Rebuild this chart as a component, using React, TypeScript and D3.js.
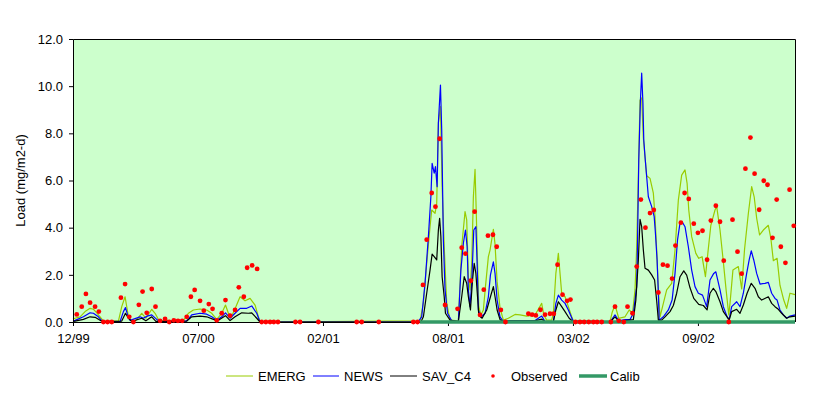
import { useRef, useEffect } from 'react'
import * as d3 from 'd3'

// x values are sample weeks from the first 12/99 sample, y values in mg/m2-d
const X_TICKS = [0, 30, 60, 90, 120, 150]
const X_LABELS = ['12/99', '07/00', '02/01', '08/01', '03/02', '09/02']
const X_MAX = 173.3
const Y_TICKS = [0, 2, 4, 6, 8, 10, 12]

const emergData: [number, number][] = [
  [0, 0.12], [0.5, 0.16], [1.7, 0.22], [2.9, 0.44], [4.1, 0.58], [4.9, 0.54], [5.7, 0.39], [6.5, 0.22],
  [7.3, 0.04], [10.9, 0.04], [11.7, 0.65], [12.5, 1.07], [13.3, 0.22], [14.1, 0.02], [15.1, 0.07],
  [16.5, 0.37], [17.5, 0.16], [18.9, 0.54], [19.7, 0.37], [20.7, 0.04], [22.5, 0.07], [24.1, 0.05],
  [26.5, 0.07], [27.7, 0.37], [28.9, 0.51], [30.5, 0.55], [32.1, 0.51], [33.3, 0.37], [34.5, 0.11],
  [35.7, 0.37], [36.6, 0.72], [37.3, 0.37], [38.1, 0.25], [39.1, 0.65], [40.1, 1.07], [41.3, 0.9],
  [42.5, 1.0], [43.7, 0.72], [44.5, 0.22], [44.9, 0], [83.3, 0.05], [84.1, 0.79], [84.9, 2.49],
  [85.7, 4.04], [86.1, 4.75], [86.9, 4.61], [87.3, 5.03], [87.7, 8.43], [88.2, 9.13], [88.6, 5.74],
  [89.1, 3.19], [89.7, 0.8], [90.5, 0.08], [92.5, 0.05], [93.3, 3.19], [94.1, 4.68], [94.5, 4.33],
  [94.9, 1.92], [95.3, 1.36], [95.7, 2.49], [96.1, 5.31], [96.5, 6.47], [96.8, 4.61], [97.1, 2.49],
  [97.4, 0.65], [97.9, 0.3], [98.5, 0.51], [99.0, 1.5], [99.7, 2.77], [100.1, 3.05], [100.9, 3.93],
  [101.3, 3.3], [101.8, 1.7], [102.5, 0.6], [103.3, 0.08], [104.5, 0.16], [106.1, 0.32], [107.3, 0.3],
  [108.9, 0.25], [110.9, 0.3], [112.5, 0.79], [113.0, 0.3], [113.7, 0.08], [114.9, 0.08], [115.3, 0.37],
  [115.9, 2.06], [116.5, 2.91], [116.9, 2.06], [117.3, 1.22], [118.1, 1.07], [118.9, 0.65], [119.7, 0.22],
  [120.1, 0.05], [128.9, 0.02], [129.4, 0.4], [130.1, 0.72], [131.0, 0.16], [132.5, 0.22], [133.5, 0.51],
  [134.3, 0.37], [134.9, 1.36], [135.3, 3.19], [135.7, 6.16], [136.1, 9.41], [136.5, 9.5], [136.9, 7.8],
  [137.7, 6.2], [138.5, 6.09], [139.3, 5.46], [139.7, 4.47], [140.1, 3.05], [140.5, 1.36], [140.9, 0.22],
  [141.7, 0.79], [142.5, 1.36], [143.7, 1.64], [144.5, 3.05], [145.3, 5.17], [146.1, 6.23], [146.9, 6.45],
  [147.4, 5.88], [147.8, 4.75], [148.5, 3.62], [149.5, 2.91], [150.2, 2.7], [151.0, 2.77], [151.8, 1.92],
  [152.4, 2.95], [153.1, 4.1], [154.1, 4.75], [154.5, 4.9], [155.3, 3.9], [156.1, 2.55], [156.8, 1.3],
  [157.4, 0.3], [157.7, 0.79], [158.4, 2.2], [159.7, 2.35], [160.5, 1.4], [161.2, 3.1], [162.1, 4.6],
  [162.9, 5.74], [163.5, 5.31], [164.1, 4.4], [164.8, 3.69], [165.7, 3.9], [166.9, 4.1], [167.5, 3.55],
  [168.1, 2.6], [169.0, 2.7], [169.7, 1.55], [170.6, 0.93], [171.3, 0.58], [172.1, 1.22], [173.3, 1.16],
]

const newsData: [number, number][] = [
  [0, 0.05], [0.5, 0.07], [2.5, 0.22], [4.1, 0.39], [4.9, 0.37], [6.1, 0.22], [7.1, 0.02], [11.3, 0.02],
  [12.1, 0.44], [12.6, 0.61], [13.1, 0.3], [13.7, 0.07], [16.1, 0.22], [16.9, 0.16], [17.8, 0.25],
  [18.9, 0.3], [20.1, 0.11], [20.9, 0.02], [27.3, 0.05], [28.5, 0.3], [30.5, 0.37], [32.1, 0.33],
  [33.3, 0.22], [34.5, 0.07], [35.7, 0.22], [36.6, 0.39], [37.7, 0.16], [38.9, 0.37], [40.1, 0.58],
  [41.7, 0.58], [42.9, 0.68], [44.1, 0.37], [44.9, 0], [82.8, 0], [83.7, 0.22], [84.5, 1.64], [85.3, 3.62],
  [85.9, 5.31], [86.2, 6.73], [86.7, 6.31], [87.0, 6.59], [87.4, 5.74], [87.7, 8.43], [88.2, 10.05],
  [88.5, 8.14], [88.9, 3.48], [89.3, 1.36], [89.9, 0.37], [90.9, 0.05], [92.5, 0.02], [93.1, 2.2],
  [93.7, 3.34], [94.2, 3.9], [94.6, 3.19], [94.9, 1.36], [95.3, 0.65], [95.7, 1.64], [96.2, 3.9],
  [96.7, 4.04], [97.0, 2.49], [97.3, 0.51], [97.9, 0.2], [98.9, 0.37], [99.7, 1.07], [100.2, 2.0],
  [100.9, 2.55], [101.3, 2.06], [101.8, 0.93], [102.5, 0.22], [103.3, 0.02], [104.9, 0.06], [110.9, 0.06],
  [111.7, 0.16], [112.5, 0.25], [113.3, 0.02], [115.3, 0.02], [115.9, 0.79], [116.5, 1.14], [117.3, 0.93],
  [118.1, 0.79], [118.9, 0.51], [120.0, 0.05], [128.9, 0], [130.1, 0.3], [131.0, 0.05], [132.5, 0.1],
  [133.7, 0.1], [134.5, 0.37], [134.9, 0.93], [135.3, 1.5], [135.5, 3.34], [135.8, 6.87], [136.2, 9.41],
  [136.5, 10.55], [136.8, 9.27], [137.0, 7.72], [137.3, 7.01], [137.7, 6.16], [138.1, 5.31], [138.9, 4.89],
  [139.5, 4.47], [139.8, 3.76], [140.2, 2.63], [140.5, 1.22], [140.7, 0.08], [141.7, 0.22], [142.9, 0.51],
  [143.8, 0.93], [144.5, 2.06], [145.1, 3.48], [145.7, 4.19], [146.2, 4.25], [146.9, 4.04], [147.7, 3.19],
  [148.5, 2.2], [149.3, 1.5], [150.1, 1.22], [151.1, 1.14], [152.1, 0.65], [152.9, 1.78], [153.8, 2.06],
  [154.3, 2.13], [155.3, 1.36], [156.1, 0.65], [157.0, 0.22], [157.5, 0.11], [158.1, 0.65], [159.3, 0.86],
  [160.1, 0.65], [160.9, 1.22], [161.7, 2.06], [162.3, 2.63], [162.8, 3.02], [163.4, 2.63], [164.1, 2.06],
  [164.9, 1.61], [166.1, 1.64], [166.9, 1.68], [167.7, 1.22], [168.5, 1.0], [169.0, 0.93], [169.7, 0.51],
  [170.5, 0.3], [171.3, 0.16], [172.1, 0.25], [173.3, 0.3],
]

const savData: [number, number][] = [
  [0, 0.02], [0.5, 0.04], [2.5, 0.11], [4.1, 0.22], [5.3, 0.2], [6.5, 0.07], [7.3, 0.02], [11.7, 0.04],
  [12.6, 0.37], [13.3, 0.16], [14.1, 0.02], [16.5, 0.16], [17.5, 0.05], [18.9, 0.22], [19.9, 0.03],
  [27.3, 0.04], [28.5, 0.22], [30.5, 0.25], [32.1, 0.22], [33.7, 0.11], [34.8, 0.06], [36.6, 0.27],
  [37.7, 0.06], [38.9, 0.22], [40.5, 0.39], [42.1, 0.37], [42.9, 0.39], [44.1, 0.16], [44.9, 0],
  [83.5, 0], [84.1, 0.22], [84.9, 1.22], [85.7, 2.2], [86.2, 2.88], [86.7, 2.77], [87.3, 2.63], [87.7, 3.9],
  [88.0, 4.4], [88.3, 3.62], [88.6, 1.92], [89.1, 1.07], [89.4, 0.37], [90.5, 0.08], [92.5, 0.02],
  [93.3, 1.07], [93.9, 1.92], [94.5, 1.64], [94.9, 1.07], [95.4, 0.51], [95.9, 1.78], [96.3, 2.49],
  [96.7, 2.06], [97.1, 1.07], [97.4, 0.3], [98.2, 0.16], [99.3, 0.51], [100.2, 1.07], [100.9, 1.5],
  [101.3, 1.07], [101.8, 0.51], [102.5, 0.1], [103.3, 0.02], [104.9, 0.05], [110.9, 0.05], [112.5, 0.12],
  [113.3, 0.02], [115.3, 0.02], [115.9, 0.51], [116.5, 0.86], [117.3, 0.65], [118.1, 0.44], [119.1, 0.16],
  [120.0, 0.02], [128.9, 0], [130.1, 0.22], [131.0, 0.03], [134.5, 0.1], [135.1, 0.93], [135.7, 2.63],
  [136.1, 4.35], [136.5, 4.04], [136.9, 3.05], [137.3, 2.28], [138.1, 2.2], [138.9, 2.0], [139.6, 1.78],
  [140.1, 0.9], [140.5, 0.08], [141.3, 0.08], [142.1, 0.22], [143.3, 0.44], [144.1, 0.7], [144.9, 1.22],
  [145.7, 1.92], [146.6, 2.17], [147.3, 1.99], [148.1, 1.45], [149.0, 1.0], [150.2, 0.75], [151.3, 0.7],
  [152.2, 0.51], [152.9, 1.22], [153.7, 1.43], [154.3, 1.29], [155.3, 0.86], [156.1, 0.44], [157.0, 0.22],
  [157.5, 0.08], [158.1, 0.44], [159.3, 0.54], [160.1, 0.37], [160.9, 0.72], [161.8, 1.22], [162.8, 1.64],
  [163.7, 1.43], [164.5, 1.07], [165.3, 0.93], [166.9, 1.07], [167.7, 0.79], [168.5, 0.65], [169.3, 0.54],
  [170.1, 0.37], [171.3, 0.16], [172.1, 0.22], [173.3, 0.25],
]

const observedData: [number, number][] = [
  [0.9, 0.32], [2.1, 0.65], [3.1, 1.19], [4.1, 0.82], [5.3, 0.65], [6.2, 0.44], [7.3, 0], [8.3, 0],
  [9.3, 0], [11.5, 1.03], [12.5, 1.61], [13.5, 0.22], [14.5, 0], [15.8, 0.73], [16.7, 1.29], [17.7, 0.39],
  [18.9, 1.4], [19.8, 0.65], [20.9, 0.05], [22.1, 0.13], [23.1, 0], [24.2, 0.07], [25.2, 0.05], [26.2, 0.05],
  [27.3, 0.22], [28.3, 1.07], [29.2, 1.36], [30.5, 0.9], [31.4, 0.48], [32.6, 0.76], [33.5, 0.56],
  [34.5, 0.07], [35.7, 0.37], [36.6, 0.93], [37.7, 0.27], [38.9, 0.51], [39.8, 1.47], [41.0, 1.07],
  [41.8, 2.3], [43.0, 2.4], [44.2, 2.25], [45.3, 0], [46.3, 0], [47.3, 0], [48.2, 0], [49.2, 0], [53.4, 0],
  [54.5, 0], [58.9, 0], [68.1, 0], [69.3, 0], [73.4, 0], [81.7, 0], [82.7, 0], [84.0, 1.57], [84.9, 3.49],
  [86.1, 5.47], [87.0, 4.89], [88.0, 7.77], [89.3, 0.72], [92.3, 0.56], [93.3, 3.15], [94.2, 2.9],
  [95.5, 1.75], [96.4, 4.68], [97.7, 0.3], [98.6, 1.37], [99.6, 3.66], [100.8, 3.7], [101.7, 3.19],
  [102.7, 0.51], [103.8, 0], [109.3, 0.35], [110.2, 0.31], [111.1, 0.28], [112.2, 0.52], [113.3, 0.31],
  [114.5, 0.35], [115.4, 0.35], [116.3, 2.43], [117.5, 1.16], [118.6, 0.9], [119.4, 0.95], [120.6, 0],
  [121.7, 0], [122.7, 0], [123.8, 0], [124.9, 0], [125.8, 0], [126.9, 0], [129.1, 0], [130.1, 0.65],
  [131.0, 0.05], [132.2, 0], [133.1, 0.65], [134.3, 0.37], [135.3, 2.35], [136.3, 5.19], [137.4, 4.0],
  [138.5, 4.62], [139.4, 4.75], [140.5, 1.25], [141.6, 2.43], [142.7, 2.39], [143.8, 1.84], [144.6, 3.24],
  [145.9, 4.21], [146.8, 5.47], [147.8, 5.22], [149.0, 4.17], [150.0, 3.78], [151.1, 3.87], [152.2, 2.64],
  [153.1, 4.3], [154.3, 4.93], [155.3, 4.25], [156.2, 2.6], [157.4, 0], [158.3, 4.34], [159.5, 2.98],
  [160.5, 2.05], [161.4, 6.5], [162.6, 7.82], [163.6, 6.29], [164.7, 4.76], [165.8, 5.99], [166.7, 5.82],
  [167.9, 3.57], [168.9, 5.19], [169.9, 3.19], [171.0, 2.51], [172.0, 5.61], [173.0, 4.08],
]

// calibration period marked along the zero line
const calibData: [number, number][] = [[83.3, 0], [173.3, 0]]

const SERIES = [
  { name: 'EMERG', data: emergData, color: '#99cc00' },
  { name: 'NEWS', data: newsData, color: '#0000ff' },
  { name: 'SAV_C4', data: savData, color: '#000000' },
]

const FONT = 'Arial, "Liberation Sans", sans-serif'

export default function App() {
  const svgRef = useRef<SVGSVGElement>(null)

  useEffect(() => {
    if (!svgRef.current) return
    const svg = d3.select(svgRef.current)
    svg.selectAll('*').remove()

    const margin = { top: 39, right: 34, bottom: 74, left: 73 }
    const width = 829
    const height = 396
    const innerWidth = width - margin.left - margin.right
    const innerHeight = height - margin.top - margin.bottom

    const g = svg.append('g').attr('transform', `translate(${margin.left},${margin.top})`)

    const xScale = d3.scaleLinear().domain([0, X_MAX]).range([0, innerWidth])
    const yScale = d3.scaleLinear().domain([0, 12]).range([innerHeight, 0])

    // plot background
    g.append('rect')
      .attr('width', innerWidth)
      .attr('height', innerHeight)
      .attr('fill', '#ccffcc')

    // top and right border
    g.append('path')
      .attr('d', `M0.5,0.5H${innerWidth + 0.5}V${innerHeight}`)
      .attr('fill', 'none')
      .attr('stroke', '#000')
      .attr('stroke-width', 1)

    const line = d3.line<[number, number]>()
      .x(d => xScale(d[0]))
      .y(d => yScale(d[1]))

    SERIES.forEach(s => {
      g.append('path')
        .datum(s.data)
        .attr('d', line)
        .attr('fill', 'none')
        .attr('stroke', s.color)
        .attr('stroke-width', 1.2)
        .attr('stroke-linejoin', 'round')
    })

    // axes
    const xAxis = d3.axisBottom(xScale)
      .tickValues(X_TICKS)
      .tickSize(4)
      .tickFormat((d, i) => X_LABELS[i])

    const xg = g.append('g')
      .attr('transform', `translate(0,${innerHeight})`)
      .call(xAxis)
    xg.select('.domain').attr('stroke', '#000').attr('d', `M0.5,0.5H${innerWidth}`)
    xg.selectAll('line').attr('stroke', '#000')
    xg.selectAll('text')
      .attr('fill', '#000')
      .attr('font-family', FONT)
      .attr('font-size', 13)
      .attr('dy', '1.05em')

    const yAxis = d3.axisLeft(yScale)
      .tickValues(Y_TICKS)
      .tickSize(4)
      .tickPadding(6)
      .tickFormat(d3.format('.1f'))

    const yg = g.append('g').call(yAxis)
    yg.select('.domain').attr('stroke', '#000')
    yg.selectAll('line').attr('stroke', '#000')
    yg.selectAll('text')
      .attr('fill', '#000')
      .attr('font-family', FONT)
      .attr('font-size', 13)

    // calib band on the zero line
    g.append('path')
      .datum(calibData)
      .attr('d', line)
      .attr('stroke', '#339966')
      .attr('stroke-width', 3.5)
      .attr('fill', 'none')

    // observed points
    g.append('g')
      .selectAll('circle')
      .data(observedData)
      .join('circle')
      .attr('cx', d => xScale(d[0]))
      .attr('cy', d => yScale(d[1]))
      .attr('r', 2.4)
      .attr('fill', '#ff0000')

    // y axis title
    svg.append('text')
      .attr('transform', `translate(25,${margin.top + innerHeight / 2}) rotate(-90)`)
      .attr('text-anchor', 'middle')
      .attr('font-family', FONT)
      .attr('font-size', 13)
      .attr('fill', '#000')
      .text('Load (mg/m2-d)')

    // legend
    const legendY = 376
    const legendItems = [
      { name: 'EMERG', kind: 'line', color: '#99cc00', x: 226, w: 27, sw: 1 },
      { name: 'NEWS', kind: 'line', color: '#0000ff', x: 313, w: 26, sw: 1 },
      { name: 'SAV_C4', kind: 'line', color: '#000000', x: 390, w: 27, sw: 1 },
      { name: 'Observed', kind: 'dot', color: '#ff0000', x: 480, w: 26, sw: 0 },
      { name: 'Calib', kind: 'line', color: '#339966', x: 579, w: 28, sw: 3.5 },
    ]
    const lg = svg.append('g')
    legendItems.forEach(item => {
      if (item.kind === 'line') {
        lg.append('line')
          .attr('x1', item.x)
          .attr('x2', item.x + item.w)
          .attr('y1', legendY)
          .attr('y2', legendY)
          .attr('stroke', item.color)
          .attr('stroke-width', item.sw)
      } else {
        lg.append('circle')
          .attr('cx', item.x + item.w / 2)
          .attr('cy', legendY)
          .attr('r', 1.8)
          .attr('fill', item.color)
      }
      lg.append('text')
        .attr('x', item.x + item.w + (item.name === 'Calib' ? 3 : 5))
        .attr('y', legendY + 4.5)
        .attr('font-family', FONT)
        .attr('font-size', 13)
        .attr('fill', '#000')
        .text(item.name)
    })
  }, [])

  return (
    <svg
      ref={svgRef}
      width={829}
      height={396}
      style={{ position: 'absolute', left: 0, top: 0, background: '#fff' }}
    />
  )
}
